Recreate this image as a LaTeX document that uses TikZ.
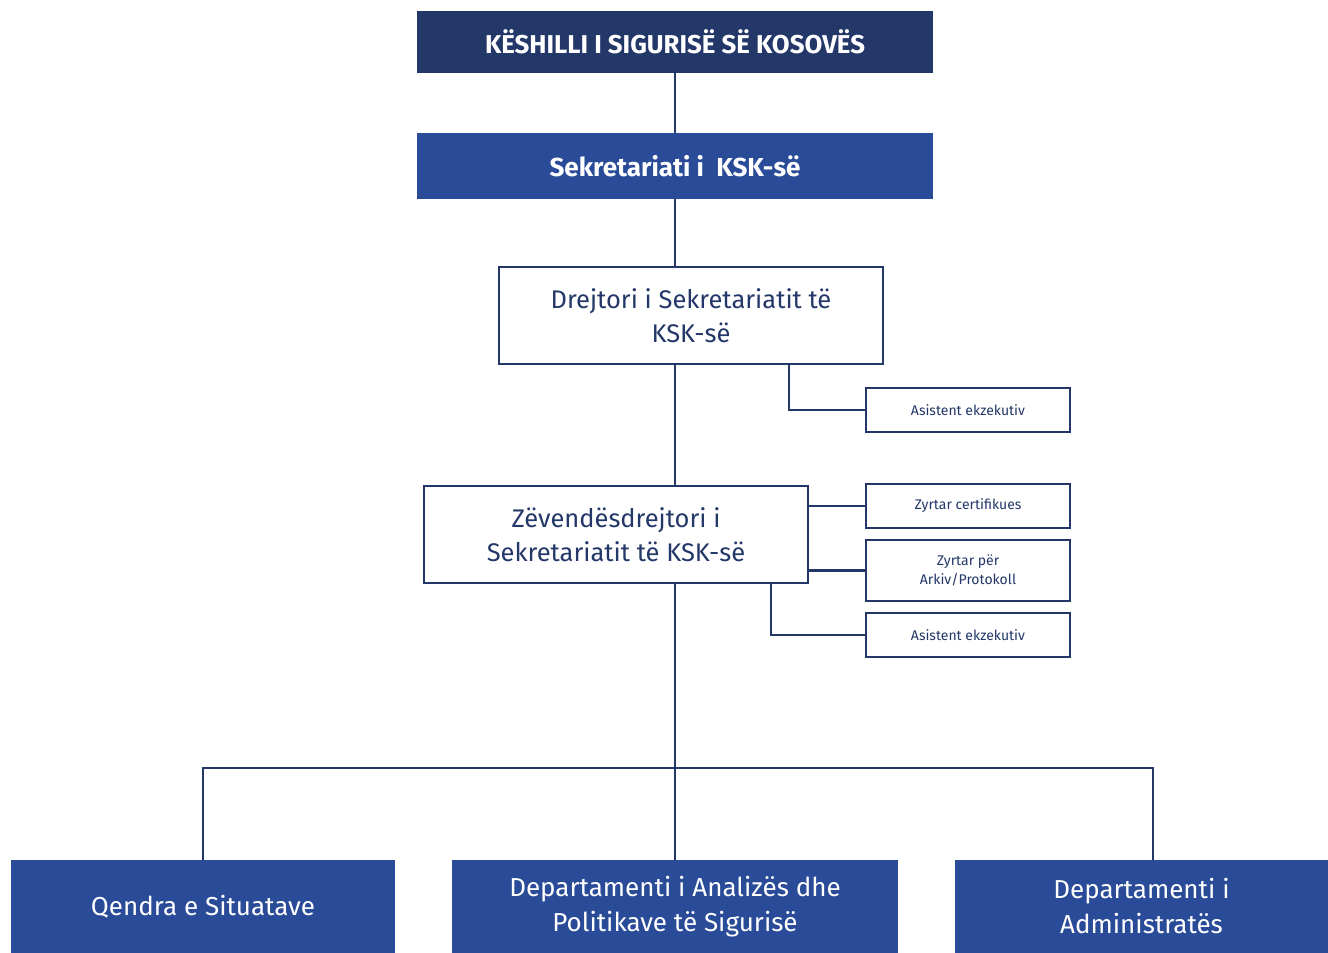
\documentclass[tikz,border=0pt]{standalone}
\usepackage{fontspec}
\setmainfont{Fira Sans}
\definecolor{navy}{RGB}{35,55,104}
\definecolor{mid}{RGB}{42,75,152}
\begin{document}
\begin{tikzpicture}[x=1pt,y=-1pt,
  conn/.style={draw=navy,line width=2.6pt},
  darkbox/.style={rectangle,fill=navy,text=white,inner sep=0pt,align=center,font=\fontsize{25.8}{30}\selectfont\bfseries},
  midbox/.style={rectangle,fill=mid,text=white,inner sep=0pt,align=center},
  whitebox/.style={rectangle,draw=navy,line width=2.6pt,fill=white,text=navy,inner sep=0pt,align=center},
  bigtxt/.style={font=\fontsize{25.5}{34.5}\selectfont},
  smalltxt/.style={font=\fontsize{14}{19}\selectfont},
  bottxt/.style={font=\fontsize{26}{35}\selectfont}]
\useasboundingbox (0,0) rectangle (1328,953);
\node[darkbox,minimum width=516pt,minimum height=62pt] (top) at (675,42) {KËSHILLI I SIGURISË SË KOSOVËS};
\node[midbox,minimum width=516pt,minimum height=66pt,font=\fontsize{26}{30}\selectfont\bfseries] (sek) at (675,166) {Sekretariati i\ \ KSK-së};
\node[whitebox,bigtxt,minimum width=384pt,minimum height=97pt] (drej) at (691,315.5) {Drejtori i Sekretariatit të\\KSK-së};
\node[whitebox,smalltxt,minimum width=204pt,minimum height=44pt] (ae1) at (968,410) {Asistent ekzekutiv};
\node[whitebox,bigtxt,minimum width=384pt,minimum height=97pt] (zev) at (616,534.5) {Zëvendësdrejtori i\\Sekretariatit të KSK-së};
\node[whitebox,smalltxt,minimum width=204pt,minimum height=44pt] (zc) at (968,506) {Zyrtar certifikues};
\node[whitebox,smalltxt,minimum width=204pt,minimum height=61pt] (za) at (968,570.5) {Zyrtar për\\Arkiv/Protokoll};
\node[whitebox,smalltxt,minimum width=204pt,minimum height=44pt] (ae2) at (968,635) {Asistent ekzekutiv};
\node[midbox,bottxt,minimum width=384pt,minimum height=93pt] (q) at (203,906.5) {Qendra e Situatave};
\node[midbox,bottxt,minimum width=446pt,minimum height=93pt] (d) at (675,906.5) {Departamenti i Analizës dhe\\Politikave të Sigurisë};
\node[midbox,bottxt,minimum width=373pt,minimum height=93pt] (a) at (1141.5,906.5) {Departamenti i\\Administratës};
\coordinate (busR) at (1153,768);
\draw[conn] (top.south) -- (sek.north);
\draw[conn] (sek.south) -- (sek.south |- drej.north);
\draw[conn] (drej.south -| sek.south) -- (zev.north -| sek.south);
\draw[conn] ([xshift=98pt]drej.south) |- (ae1.west);
\draw[conn] (zev.east |- zc.west) -- (zc.west);
\draw[conn] (zev.east |- za.west) -- (za.west);
\draw[conn] ([xshift=155pt]zev.south) |- (ae2.west);
\draw[conn] (zev.south -| d.north) -- (d.north);
\draw[conn] (q.north) |- (busR) -- (busR |- a.north);
\end{tikzpicture}
\end{document}
